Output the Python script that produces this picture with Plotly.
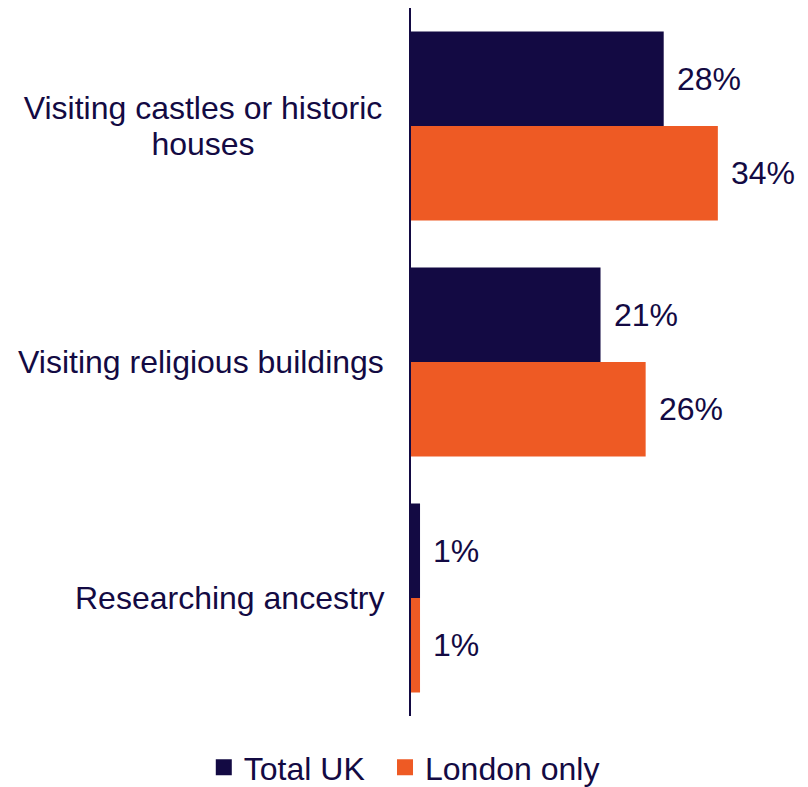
import plotly.graph_objects as go

# Heritage activities: share of respondents, UK overall vs London
categories = ["Visiting castles or historic<br>houses",
              "Visiting religious buildings",
              "Researching ancestry"]
series_names = ["Total UK", "London only"]
total_uk = [28, 21, 1]
london_only = [34, 26, 1]

NAVY = "#130A43"
ORANGE = "#EE5A24"
FONT = "Liberation Sans, Arial, sans-serif"
SIZE = 32
LINE_PITCH = 36
WRAP_BOX = 362          # width of the box that centres wrapped labels

fig = go.Figure()
for (name, vals, col), leg in zip([(series_names[0], total_uk, NAVY),
                                   (series_names[1], london_only, ORANGE)],
                                  ["legend", "legend2"]):
    fig.add_trace(go.Bar(
        y=categories, x=vals, name=name, orientation="h",
        marker=dict(color=col, line=dict(width=0)),
        showlegend=False, hoverinfo="skip",
    ))
    # larger square swatch for the legend, on a hidden pair of axes
    fig.add_trace(go.Scatter(
        x=[0], y=[0], mode="markers", name=name, legend=leg,
        xaxis="x2", yaxis="y2", hoverinfo="skip",
        marker=dict(symbol="square", size=16, color=col),
    ))

annotations = []
# value labels beside each bar
for vals, shift in [(total_uk, 47.2), (london_only, -47.2)]:
    for cat, v in zip(categories, vals):
        annotations.append(dict(
            x=v, y=cat, xref="x", yref="y", text=f"{v}%",
            showarrow=False, xanchor="left", yanchor="middle",
            xshift=11, yshift=shift,
            font=dict(family=FONT, size=SIZE, color=NAVY),
        ))
# category labels; wrapped ones are centred line by line
for cat in categories:
    lines = cat.split("<br>")
    for i, line in enumerate(lines):
        ann = dict(
            x=0, y=cat, xref="x", yref="y", text=line,
            showarrow=False, xanchor="right", yanchor="middle",
            xshift=-25, yshift=((len(lines) - 1) / 2 - i) * LINE_PITCH,
            font=dict(family=FONT, size=SIZE, color=NAVY),
        )
        if len(lines) > 1:
            ann.update(width=WRAP_BOX, align="center")
        annotations.append(ann)

hidden = dict(visible=False, fixedrange=True, showgrid=False, zeroline=False)
legend_style = dict(orientation="h", xanchor="left", y=-0.0725, yanchor="middle",
                    font=dict(family=FONT, size=SIZE, color=NAVY),
                    itemsizing="trace", bgcolor="rgba(0,0,0,0)")

fig.update_layout(
    width=808, height=787,
    margin=dict(l=411, r=36, t=8, b=71, autoexpand=False),
    paper_bgcolor="white", plot_bgcolor="white",
    barmode="group", bargap=0.2, bargroupgap=0,
    font=dict(family=FONT, size=SIZE, color=NAVY),
    xaxis=dict(range=[0, 40], visible=False, fixedrange=True),
    yaxis=dict(autorange="reversed", showticklabels=False, ticks="",
               showgrid=False, zeroline=False, fixedrange=True,
               showline=True, linecolor=NAVY, linewidth=1.5),
    xaxis2=dict(hidden, overlaying="x", range=[1, 2]),
    yaxis2=dict(hidden, overlaying="y", range=[1, 2]),
    legend=dict(legend_style, x=-0.574),
    legend2=dict(legend_style, x=-0.072),
    annotations=annotations,
    showlegend=True,
)

fig.write_html("out.html")
